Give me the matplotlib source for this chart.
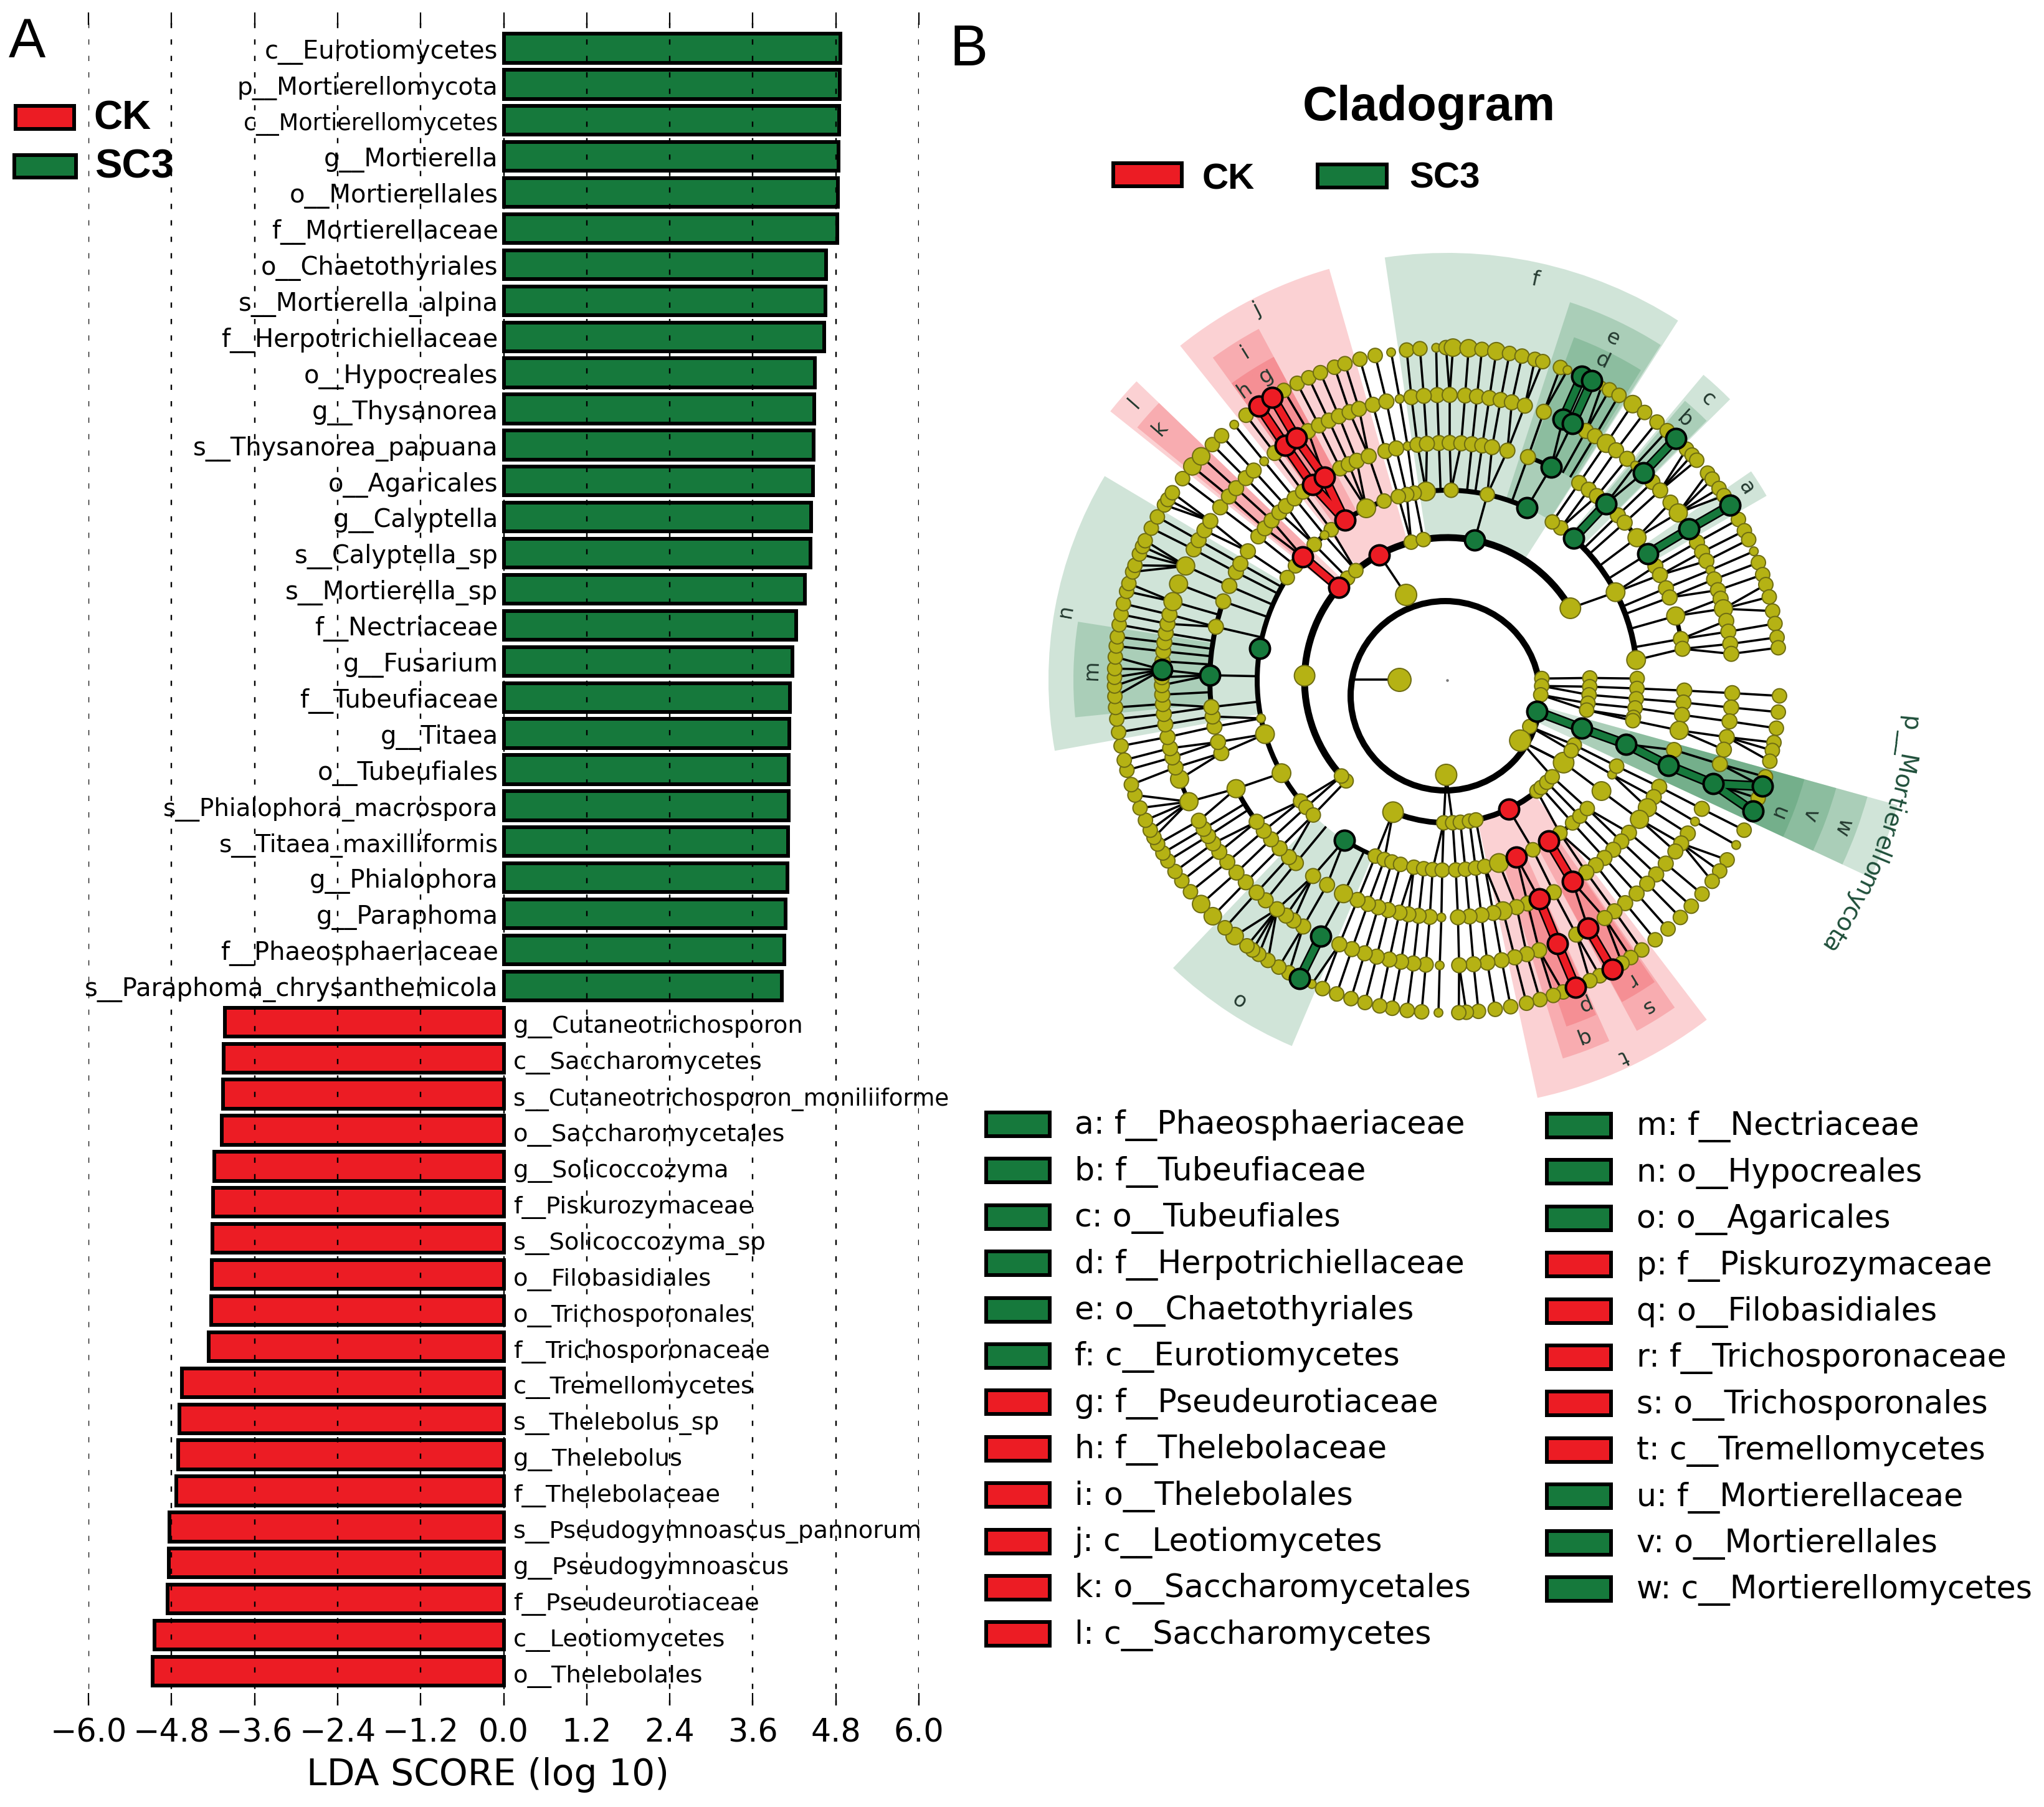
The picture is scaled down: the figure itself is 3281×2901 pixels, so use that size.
import numpy as np
import matplotlib
matplotlib.use("Agg")
import matplotlib.pyplot as plt
from matplotlib.patches import Wedge, Arc, Circle, Rectangle

GREEN = "#16793c"
RED = "#ec1c24"
OLIVE = "#b5b214"
W, H = 3281, 2901
PX = 72 / 100  # one image pixel in points

# panel A: LDA bars, top to bottom
green_labels = ["c__Eurotiomycetes", "p__Mortierellomycota", "c__Mortierellomycetes", "g__Mortierella",
                "o__Mortierellales", "f__Mortierellaceae", "o__Chaetothyriales", "s__Mortierella_alpina",
                "f__Herpotrichiellaceae", "o__Hypocreales", "g__Thysanorea", "s__Thysanorea_papuana",
                "o__Agaricales", "g__Calyptella", "s__Calyptella_sp", "s__Mortierella_sp", "f__Nectriaceae",
                "g__Fusarium", "f__Tubeufiaceae", "g__Titaea", "o__Tubeufiales", "s__Phialophora_macrospora",
                "s__Titaea_maxilliformis", "g__Phialophora", "g__Paraphoma", "f__Phaeosphaeriaceae",
                "s__Paraphoma_chrysanthemicola"]
green_scores = [4.87, 4.86, 4.85, 4.84, 4.83, 4.82, 4.66, 4.65, 4.63, 4.50, 4.49, 4.48, 4.47, 4.44,
                4.43, 4.35, 4.23, 4.17, 4.14, 4.13, 4.12, 4.12, 4.11, 4.10, 4.07, 4.06, 4.02]
red_labels = ["g__Cutaneotrichosporon", "c__Saccharomycetes", "s__Cutaneotrichosporon_moniliiforme",
              "o__Saccharomycetales", "g__Solicoccozyma", "f__Piskurozymaceae", "s__Solicoccozyma_sp",
              "o__Filobasidiales", "o__Trichosporonales", "f__Trichosporonaceae", "c__Tremellomycetes",
              "s__Thelebolus_sp", "g__Thelebolus", "f__Thelebolaceae", "s__Pseudogymnoascus_pannorum",
              "g__Pseudogymnoascus", "f__Pseudeurotiaceae", "c__Leotiomycetes", "o__Thelebolales"]
red_scores = [-4.03, -4.05, -4.06, -4.07, -4.18, -4.20, -4.21, -4.22, -4.23, -4.26, -4.65, -4.69,
              -4.70, -4.73, -4.83, -4.84, -4.86, -5.05, -5.07]
x_ticks = [-6.0, -4.8, -3.6, -2.4, -1.2, 0.0, 1.2, 2.4, 3.6, 4.8, 6.0]

# a few labels are set narrower than the rest in the figure
label_size = {"c__Mortierellomycetes": 26.4, "p__Mortierellomycota": 28.2, "s__Phialophora_macrospora": 27.9,
              "s__Titaea_maxilliformis": 28, "s__Cutaneotrichosporon_moniliiforme": 26.8}

# panel B: legend
legend_col1 = [("a: f__Phaeosphaeriaceae", GREEN), ("b: f__Tubeufiaceae", GREEN), ("c: o__Tubeufiales", GREEN),
               ("d: f__Herpotrichiellaceae", GREEN), ("e: o__Chaetothyriales", GREEN), ("f: c__Eurotiomycetes", GREEN),
               ("g: f__Pseudeurotiaceae", RED), ("h: f__Thelebolaceae", RED), ("i: o__Thelebolales", RED),
               ("j: c__Leotiomycetes", RED), ("k: o__Saccharomycetales", RED), ("l: c__Saccharomycetes", RED)]
legend_col2 = [("m: f__Nectriaceae", GREEN), ("n: o__Hypocreales", GREEN), ("o: o__Agaricales", GREEN),
               ("p: f__Piskurozymaceae", RED), ("q: o__Filobasidiales", RED), ("r: f__Trichosporonaceae", RED),
               ("s: o__Trichosporonales", RED), ("t: c__Tremellomycetes", RED), ("u: f__Mortierellaceae", GREEN),
               ("v: o__Mortierellales", GREEN), ("w: c__Mortierellomycetes", GREEN)]

# cladogram: node angles in degrees per ring, ring 7 is the outermost
ring7 = [91.9, 90.2, 89, 86.3, 84, 81.5, 79.2, 77, 74.7, 73.3, 70.1, 68.8, 62.3, 60.8, 58.9, 56.1, 53.6, 50.9,
         48.6, 44, 42.6, 41.4, 38.5, 37.2, 35.2, 33.7, 28.9, 26.7, 25, 22.8, 20.7, 18.5, 16.7, 14.5, 12, 9.8, 7.4,
         5.6, -2.7, -5.5, -8.3, -10.8, -12.2, -14.1, -16.9, -20.8, -26.8, -29.7, -32.7, -35, -37.2, -40, -42.8,
         -45.5, -48.4, -51.3, -54.2, -56.5, -58.3, -62.7, -64.6, -69.6, -71.4, -73.8, -76.2, -79, -81.7, -84.6,
         -86.7, -88, -91.5, -94.4, -96.9, -99.5, -101.7, -104.3, -106.8, -109.4, -112, -114, -118.4, -120.4,
         -122.6, -124.5, -125.8, -127, -129.7, -131.9, -134.8, -137.7, -140.5, -142.9, -144.9, -147.1, -148.7,
         -150.5, -151.8, -153.2, -155.1, -157.4, -159.8, -161.7, -164.3, -166.1, -168.6, -171, -173.3, -175.3,
         -177.2, -179, 179.5, 178, 176, 174.1, 172.5, 170.4, 168.6, 166.7, 164.5, 163.1, 161, 159.8, 157.7, 156.3,
         155.2, 152.8, 150.6, 148.2, 147.1, 145.7, 142.7, 140, 137.7, 134.9, 132.7, 129.8, 127.2, 119.4, 116.8,
         114.6, 112.4, 109.8, 107.9, 105.2, 102.5, 99.7, 97, 94.7]
ring7_green = [66.1, 64.2, 46.6, 31.7, -18.6, -23.2, -116.3]
ring7_red = [124.5, 121.7, -67.3, -60.3]
ring7_big = [86.3, 81.5, 89, 56.1, -134.8, -137.7, -129.7, 140, 137.7]
ring7_small = [91.9, 62.3, 22.8, 129.8, -91.5, -29.7, -114, 68.8, 99.7]

ring6 = [92, 89.5, 86.4, 84, 81.5, 79.2, 76.9, 74.2, 70.2, 60.9, 58.8, 56.1, 53.7, 50.9, 48.8, 44, 41.7, 38.5, 35.9,
         28.9, 26.7, 24.7, 22.7, 20.7, 18.4, 16.6, 14.5, 12, 9.8, 7.3, 5.3, -2.6, -5.5, -8.3, -11.5, -14.1, -17.1,
         -26.8, -29.7, -32.5, -34.9, -36.9, -40, -42.9, -45.5, -48.4, -51.4, -54.1, -56.5, -63.1, -71.2, -73.8,
         -76.3, -79, -81.9, -84.7, -87.6, -91.5, -94.3, -96.8, -99.3, -101.7, -104.3, -106.8, -109.5, -112.2,
         -120.3, -122.6, -124.4, -126.6, -129.5, -131.9, -134.9, -137.6, -140.4, -143, -145.1, -146.9, -148.6,
         -150.5, -154.8, -159.7, -162.2, -164.3, -166.2, -168.5, -171.1, -173.2, -175.2, -177.1, -179, 179.4, 176.2,
         174.2, 172.4, 170.5, 168.6, 166.7, 164, 160.3, 156.4, 152.7, 150.6, 148.3, 146.1, 142.7, 139.9, 137.7,
         134.9, 132.7, 129.9, 127.2, 119.2, 116.7, 114.5, 112.3, 110, 108, 105.1, 102.3, 99.6, 97.2, 94.7]
ring6_green = [66.1, 64, 46.6, 32, 177.9, -116.3, -21.3]
ring6_red = [124.6, 121.9, -67.3, -60.4]
ring6_big = [14.5, 35.9, -159.7, -154.8, 164, 160.3, 156.4, 56.1]
ring6_small = [48.8, 22.7, -29.7, 129.9, 99.6, -91.5]

ring5 = [92, 89.4, 86.6, 84, 81.5, 79.1, 75.3, 70.1, 56.2, 53.4, 50.9, 44, 41.6, 36.9, 28.7, 26.3, 22.8, 20.4, 15.7,
         10, 7.6, -2.5, -5.4, -8.4, -12.2, -17.1, -26.7, -29.5, -32.5, -35.9, -40, -42.8, -45.6, -48.5, -51.2,
         -54.1, -63.3, -70.2, -73, -76.4, -78.8, -81.7, -84.6, -87.4, -91.4, -94.2, -96.9, -99.4, -101.6, -104.4,
         -106.9, -109.5, -112.2, -115.9, -120.4, -124.4, -129.6, -131.8, -134.9, -137.9, -140.6, -143.4, -152.8,
         -162.1, -164.9, -168.7, -171.2, -173.5, 167, 160.6, 156.6, 152.9, 150.6, 147.1, 142.7, 140.2, 137.7, 135,
         132.8, 130, 127.4, 116.8, 114.5, 112.4, 109.3, 105.1, 102.4, 99.6, 97.2, 94.9]
ring5_green = [64, 48, 32.2, 178.8, -21.1]
ring5_red = [124.6, 121.2, -67.2, -58.1]
ring5_big = [15.7, -12.2, -32.5, -35.9, -76.4, -115.9, -152.8, 36.9]
ring5_small = [-91.4, 99.6]

ring4 = [0.5, -2.5, -5.6, -8.4, -11.3, -12.3, 6.1, 27.6, 53.3, 56.4, 77.8, 88.8, 96.4, 100, 102.3, 104.9, 109.4,
         115.2, 127.6, 130.2, 134.4, 143, 147.3, -168.4, -163.5, -150.7, -140.5, -138, -134.8, -112.2, -109.3,
         -106.9, -104.2, -100.1, -97.1, -94.4, -91.5, -87.4, -84.5, -81.4, -78.6, -74.2, -63.2, -53.6, -48.7,
         -45.7, -42.5, -35.7, -29.8, -26.9]
ring4_green = [65.2, 48.3, 170.3, -122.7, -19.7]
ring4_red = [122.6, 139.5, -68.6, -57.8]
ring4_big = [96.4, 27.6, 6.1, -163.5, -150.7, -74.2, -35.7, 115.2]
ring4_small = [130.2, -29.8, -168.4]

ring3 = [178.2, 134.3, 129.8, 104.6, 99.6, 30.3, -135.1, -137.8, -112.3, -91.4, -87.8, -84.7, -81, -78.4, -51, -48.8,
         -45.7, -42.6, -35.3, -27, -29.6, 0.9, -2.6, -5.9, -9.3, -12.1]
ring3_green = [78.9, -19.7]
ring3_red = [139.4, 118.4, -64.5]
ring3_big = [178.2, 30.3, -112.3, -35.3]

ring2 = [115.7, 1, -3.5, -8.9, -29.3, -39.6, -90.6]
ring2_green = [-19.2]
ring2_big = [115.7, -39.6, -90.6]
ring1 = [179]

ring_radius = {1: 77, 2: 152, 3: 229, 4: 305, 5: 381, 6: 458, 7: 534}

# thick black arcs (ring, from, to, width px)
arc_spans = [(3, 30.3, 224.9, 11), (3, -112.3, -42.6, 9), (4, 65.2, 225.2, 8), (4, -122.7, -42.5, 7),
             (4, 6.1, 56.4, 9), (5, 160.6, 188.8, 8), (5, -152.8, -143.4, 8), (5, 64, 70.1, 7), (5, 10, 15.7, 7),
             (5, 36.9, 41.6, 7), (6, -159.7, -154.8, 7), (6, 14.5, 18.4, 5)]

# coloured thick links (ring, angle, ring, angle)
green_links = [(2, -19.2, 3, -19.7), (3, -19.7, 4, -19.7), (4, -19.7, 5, -21.1), (5, -21.1, 6, -21.3),
               (6, -21.3, 7, -18.6), (6, -21.3, 7, -23.2), (4, 48.3, 5, 48), (6, 46.6, 7, 46.6),
               (5, 32.2, 6, 32), (6, 32, 7, 31.7), (6, 66.1, 7, 66.1), (6, 64, 7, 64.2), (6, -116.3, 7, -116.3)]
red_links = [(3, 139.4, 4, 139.5), (4, 122.6, 5, 121.2), (4, 122.6, 5, 124.6), (5, 121.2, 6, 121.9),
             (5, 124.6, 6, 124.6), (6, 121.9, 7, 121.7), (6, 124.6, 7, 124.5), (4, -57.8, 5, -58.1),
             (6, -60.4, 7, -60.3), (5, -67.2, 6, -67.3), (6, -67.3, 7, -67.3)]

# outer nodes that share one parent: ring, angle range, parent angle
fans = [(7, 175.5, 184, 177.9), (7, 155, 161, 156.4), (7, 145, 149, 146.1), (7, 200, 209.4, 205.2),
        (7, 230.3, 237.4, 233.4), (7, 33.5, 38.7, 35.9), (7, 41, 44.2, 41.7), (7, -14.2, -10.7, -11.5),
        (7, -38, -32, -34.9), (7, 11.5, 17, 14.5)]

# shaded clades: from, to, inner r, outer r, colour
sectors = [(57.3, 98.4, 229, 686, GREEN), (57.5, 72, 305, 638, GREEN), (58, 69.7, 381, 587, GREEN),
           (44.8, 50, 305, 640, GREEN), (45, 49.6, 381, 589, GREEN), (30, 34.5, 381, 592, GREEN),
           (106, 128.6, 229, 687, RED), (118.2, 126, 305, 640, RED), (122.5, 126, 381, 589, RED),
           (118.2, 122.5, 381, 589, RED), (136.1, 141.4, 229, 692, RED), (136.1, 140.8, 305, 642, RED),
           (149.2, 190.2, 305, 640, GREEN), (171, 185.7, 381, 600, GREEN), (-133.6, -113, 305, 638, GREEN),
           (-77.8, -52.6, 229, 686, RED), (-73, -65.8, 305, 635, RED), (-71, -66, 381, 588, RED),
           (-61.6, -55.2, 305, 640, RED), (-61.5, -55.5, 381, 588, RED), (-25, -15.5, 152, 750, GREEN),
           (-25, -15.5, 229, 700, GREEN), (-25, -15.5, 305, 648, GREEN), (-25, -15.5, 381, 595, GREEN)]

clade_letters = ["a", "b", "c", "d", "e", "f", "g", "h", "i", "j", "k", "l", "m", "n", "o", "p", "q", "r", "s", "t",
                 "u", "v", "w"]
letter_radius = [571, 566, 616, 570, 610, 658, 569, 568, 618, 668, 613, 671, 571, 622, 612, 565, 613, 565, 615, 667,
                 572, 621, 677]
letter_angle = [32.7, 47.6, 47.2, 64.1, 64.2, 77.6, 120.8, 124.9, 121.6, 117.1, 138.7, 138.5, 178.3, 169.7, -123.2,
                -67.3, -69.2, -58.7, -58.5, -65, -21.9, -20.4, -20.4]

plt.rcParams["font.family"] = "DejaVu Sans"
fig = plt.figure(figsize=(W / 100, H / 100), dpi=100, facecolor="white")


def axes_px(left, top, right, bottom, **kw):
    return fig.add_axes([left / W, (H - bottom) / H, (right - left) / W, (bottom - top) / H], **kw)


# ---- panel A ----
ax = axes_px(142, 20, 1475, 2738)
rows = np.arange(len(green_labels) + len(red_labels))
ax.barh(rows, green_scores + red_scores, height=0.8,
        color=[GREEN] * len(green_labels) + [RED] * len(red_labels),
        edgecolor="black", linewidth=6 * PX, zorder=2)
ax.set_xlim(-6, 6)
ax.set_ylim(45.95, -0.993)
ax.set_yticks([])
ax.set_xticks(x_ticks)
ax.set_xticklabels([f"{v:.1f}".replace("-", "\u2212") for v in x_ticks], fontsize=36.5)
ax.tick_params(axis="x", direction="in", length=20 * PX, width=2.2 * PX, top=True, pad=14)
ax.xaxis.grid(True, color="black", linewidth=2.4 * PX, linestyle=(0, (3.5, 7.5)), zorder=3)
ax.set_axisbelow(False)
ax.patch.set_visible(False)
for s in ax.spines.values():
    s.set_visible(False)
for i, lab in enumerate(green_labels):
    ax.text(-0.08, i + 0.1, lab, ha="right", va="center", fontsize=label_size.get(lab, 28.8), zorder=4)
for i, lab in enumerate(red_labels):
    ax.text(0.14, i + len(green_labels) + 0.14, lab, ha="left", va="center", fontsize=label_size.get(lab, 27.7),
            zorder=4)

# overlay in image pixels for legends and panel letters
ov = fig.add_axes([0, 0, 1, 1], zorder=5)
ov.set_xlim(0, W)
ov.set_ylim(H, 0)
ov.axis("off")


def swatch(x0, y0, x1, y1, color):
    ov.add_patch(Rectangle((x0 + 3, y0 + 3), x1 - x0 - 6, y1 - y0 - 6, facecolor=color, edgecolor="black",
                           linewidth=6 * PX))


ov.text(783, 2850, "LDA SCORE (log 10)", ha="center", va="center", fontsize=42)
ov.text(14, 92, "A", family="Liberation Sans", fontsize=64, ha="left", va="baseline")
ov.text(1525, 105, "B", family="Liberation Sans", fontsize=66, ha="left", va="baseline")
swatch(22, 167, 122, 210, RED)
swatch(20, 246, 125, 288, GREEN)
ov.text(150, 208, "CK", family="Liberation Sans", weight="bold", fontsize=46, va="baseline")
ov.text(152, 285, "SC3", family="Liberation Sans", weight="bold", fontsize=47, va="baseline")
ov.text(2294, 193, "Cladogram", family="Liberation Sans", weight="bold", fontsize=56, ha="center", va="baseline")
swatch(1784, 259, 1900, 302, RED)
swatch(2112, 261, 2229, 304, GREEN)
ov.text(1930, 303, "CK", family="Liberation Sans", weight="bold", fontsize=42, va="baseline")
ov.text(2262, 301, "SC3", family="Liberation Sans", weight="bold", fontsize=42, va="baseline")

for i, (lab, col) in enumerate(legend_col1):
    yc = 1805 + 74.4 * i
    swatch(1580, yc - 22, 1688, yc + 22, col)
    ov.text(1725, yc + 2, lab, va="center", fontsize=36.4)
for i, (lab, col) in enumerate(legend_col2):
    yc = 1807 + 74.4 * i
    swatch(2480, yc - 22, 2589, yc + 22, col)
    ov.text(2627, yc + 2, lab, va="center", fontsize=36.4)

# ---- panel B, cladogram, units are pixels around the centre dot ----
cx, cy = 2323, 1092
cl = fig.add_axes([0, 0, 1, 1], zorder=4)
cl.set_xlim(-cx, W - cx)
cl.set_ylim(cy - H, cy)
cl.axis("off")


def pt(ring, a):
    r = ring_radius[ring]
    return r * np.cos(np.radians(a)), r * np.sin(np.radians(a))


def adiff(a, b):
    return abs((a - b + 180) % 360 - 180)


for a0, a1, r0, r1, col in sectors:
    cl.add_patch(Wedge((0, 0), r1, a0, a1, width=r1 - r0, facecolor=col, alpha=0.2, edgecolor="none", zorder=1))

rings = {1: (ring1, [], []), 2: (ring2, ring2_green, []), 3: (ring3, ring3_green, ring3_red),
         4: (ring4, ring4_green, ring4_red), 5: (ring5, ring5_green, ring5_red),
         6: (ring6, ring6_green, ring6_red), 7: (ring7, ring7_green, ring7_red)}
big = {2: ring2_big, 3: ring3_big, 4: ring4_big, 5: ring5_big, 6: ring6_big, 7: ring7_big}
small = {4: ring4_small, 5: ring5_small, 6: ring6_small, 7: ring7_small}
plain_d = {1: 37, 2: 23, 3: 23, 4: 23, 5: 24, 6: 24, 7: 23}
big_d = {2: 34, 3: 33, 4: 30, 5: 29, 6: 29, 7: 28}
tolerance = {7: 2.2, 6: 2.5, 5: 3.0, 4: 3.0, 3: 4.5}

# spokes from each node in to its parent ring
for k in range(3, 8):
    inner = sum(rings[k - 1][:2], []) + rings[k - 1][2]
    for a in sum(rings[k][:2], []) + rings[k][2]:
        parent = None
        for fk, lo, hi, pa in fans:
            if fk == k and (lo <= a <= hi or lo <= a + 360 <= hi):
                parent = pa
        if parent is None:
            near = min(inner, key=lambda b: adiff(a, b))
            if adiff(a, near) <= tolerance[k]:
                parent = near
            elif k >= 5:
                parent = a
        if parent is None:
            continue
        x0, y0 = pt(k - 1, parent)
        x1, y1 = pt(k, a)
        cl.plot([x0, x1], [y0, y1], color="black", lw=3.6 * PX, solid_capstyle="butt", zorder=2)

x0, y0 = pt(1, 179)
cl.plot([x0, -150], [y0, y0], color="black", lw=3.6 * PX, zorder=2)
x0, y0 = pt(2, -39.6)
x1, y1 = pt(3, -35.3)
cl.plot([x0, x1], [y0, y1], color="black", lw=3.6 * PX, zorder=2)

# the inner ring does not sit on the centre dot in the figure
cl.add_patch(Circle((-3, -25), 152, fill=False, edgecolor="black", linewidth=10 * PX, zorder=3))
for k, a0, a1, w in arc_spans:
    d = 2 * ring_radius[k]
    cl.add_patch(Arc((0, 0), d, d, theta1=a0, theta2=a1, edgecolor="black", linewidth=w * PX, zorder=3))

for links, col in ((green_links, GREEN), (red_links, RED)):
    for k0, a0, k1, a1 in links:
        x0, y0 = pt(k0, a0)
        x1, y1 = pt(k1, a1)
        cl.plot([x0, x1], [y0, y1], color="black", lw=16 * PX, solid_capstyle="butt", zorder=4)
        cl.plot([x0, x1], [y0, y1], color=col, lw=11 * PX, solid_capstyle="butt", zorder=4.1)

for k, (plain, gr, rd) in rings.items():
    sizes = []
    for a in plain:
        if a in big.get(k, []):
            sizes.append(big_d[k])
        elif a in small.get(k, []):
            sizes.append(14)
        else:
            sizes.append(plain_d[k])
    xs, ys = pt(k, np.array(plain))
    cl.scatter(xs, ys, s=(np.array(sizes) * PX) ** 2, facecolor=OLIVE, edgecolor="#6f6d12",
               linewidth=2 * PX, zorder=5)
    for group, col in ((gr, GREEN), (rd, RED)):
        if group:
            xs, ys = pt(k, np.array(group))
            cl.scatter(xs, ys, s=(32 * PX) ** 2, facecolor=col, edgecolor="black", linewidth=4 * PX, zorder=6)
cl.scatter([0], [0], s=(3 * PX) ** 2, color="#777777", zorder=5)

for let, r, a in zip(clade_letters, letter_radius, letter_angle):
    cl.text(r * np.cos(np.radians(a)), r * np.sin(np.radians(a)), let, rotation=a - 90, ha="center", va="center",
            rotation_mode="anchor", fontsize=24, color="#23392f", zorder=7)

# curved phylum label, one glyph at a time along its ring
phylum = "p__Mortierellomycota"
renderer = fig.canvas.get_renderer()
probe = cl.text(0, 0, "x", fontsize=28)
widths = []
for ch in phylum:
    probe.set_text(ch)
    w, _, _ = renderer.get_text_width_height_descent(ch, probe.get_fontproperties(), False)
    widths.append(w + 1.5)
probe.remove()
total = sum(widths)
pos = 0
for ch, w in zip(phylum, widths):
    a = -4.5 - 31 * (pos + w / 2) / total
    pos += w
    cl.text(745 * np.cos(np.radians(a)), 745 * np.sin(np.radians(a)), ch, rotation=a - 90, ha="center",
            va="center", rotation_mode="anchor", fontsize=28, color="#1f4f3a", zorder=7)

fig.savefig("out.png", dpi=100)
